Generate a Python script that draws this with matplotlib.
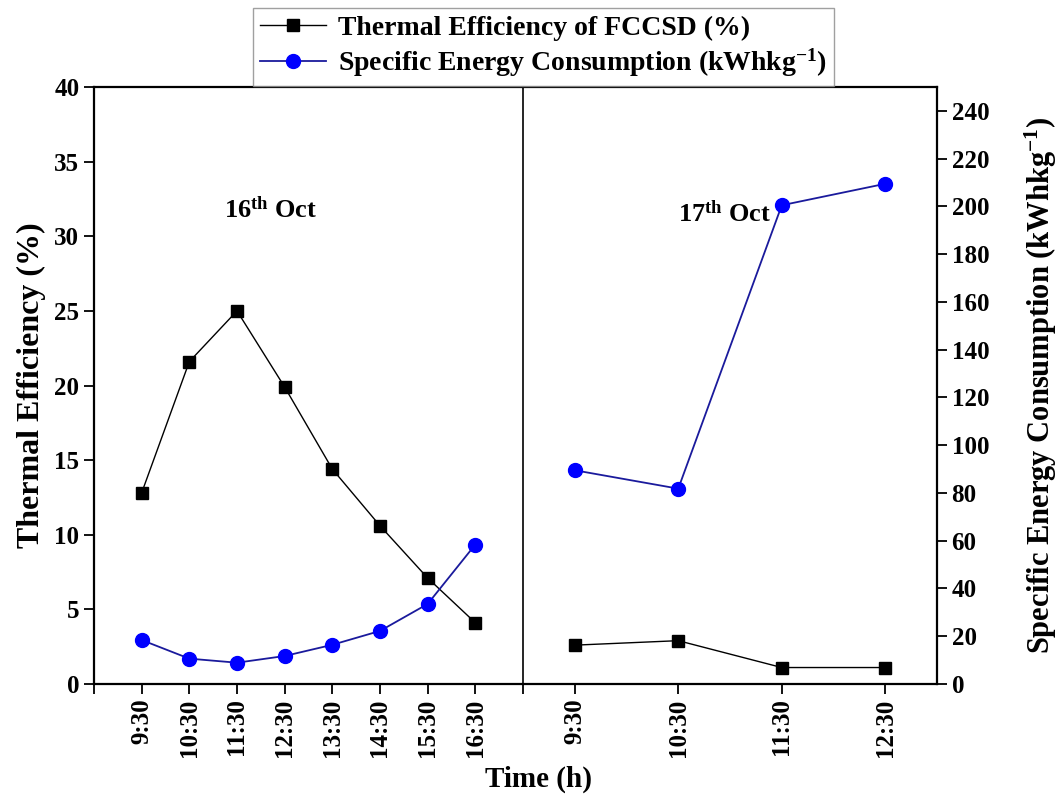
import matplotlib.pyplot as plt
from matplotlib.lines import Line2D

plt.rcParams['font.family'] = ['Liberation Serif', 'DejaVu Serif']
plt.rcParams['font.weight'] = 'bold'
plt.rcParams['mathtext.fontset'] = 'custom'
plt.rcParams['mathtext.rm'] = 'Liberation Serif:bold'
plt.rcParams['mathtext.bf'] = 'Liberation Serif:bold'
plt.rcParams['mathtext.it'] = 'Liberation Serif:italic:bold'

# Day 1 (16th Oct)
times_d1 = ['9:30', '10:30', '11:30', '12:30', '13:30', '14:30', '15:30', '16:30']
eff_d1 = [12.8, 21.6, 25.0, 19.9, 14.4, 10.6, 7.1, 4.1]
sec_d1 = [18.4, 10.6, 8.9, 11.7, 16.4, 22.2, 33.5, 58.4]

# Day 2 (17th Oct)
times_d2 = ['9:30', '10:30', '11:30', '12:30']
eff_d2 = [2.6, 2.9, 1.1, 1.1]
sec_d2 = [89.5, 81.8, 200.5, 209.5]

BLUE_M = '#0000ff'
BLUE_L = '#1a1a9c'
TICK_FS = 18
LABEL_FS = 22

fig = plt.figure(figsize=(10.63, 7.99), dpi=100)
gs = fig.add_gridspec(1, 2, width_ratios=[429, 414], wspace=0,
                      left=0.0884, right=0.8815, bottom=0.144, top=0.891)
ax1 = fig.add_subplot(gs[0])
ax2 = fig.add_subplot(gs[1])
ax1b = ax1.twinx()
ax2b = ax2.twinx()

# left panel
x1 = list(range(len(times_d1)))
ax1.plot(x1, eff_d1, color='black', lw=1, marker='s', ms=8)
ax1b.plot(x1, sec_d1, color=BLUE_L, lw=1.3, marker='o', ms=10,
          mfc=BLUE_M, mec=BLUE_M)
ax1.set_xlim(-1, len(times_d1))
ax1.set_xticks(range(-1, len(times_d1) + 1))
ax1.set_xticklabels([''] + times_d1 + [''], rotation=90)

# right panel
x2 = list(range(len(times_d2)))
ax2.plot(x2, eff_d2, color='black', lw=1, marker='s', ms=8)
ax2b.plot(x2, sec_d2, color=BLUE_L, lw=1.3, marker='o', ms=10,
          mfc=BLUE_M, mec=BLUE_M)
ax2.set_xlim(-0.5, len(times_d2) - 0.5)
ax2.set_xticks(range(len(times_d2)))
ax2.set_xticklabels(times_d2, rotation=90)

for ax in (ax1, ax2):
    ax.set_ylim(0, 40)
for ax in (ax1b, ax2b):
    ax.set_ylim(0, 250)

ax1.set_yticks(range(0, 41, 5))
ax1.tick_params(axis='y', direction='out', length=7, width=1.3, labelsize=TICK_FS)
ax1.tick_params(axis='x', direction='out', length=7, width=1.3, labelsize=TICK_FS)
ax2.tick_params(axis='x', direction='out', length=7, width=1.3, labelsize=TICK_FS)
ax2.tick_params(axis='y', left=False, labelleft=False)
ax1b.tick_params(axis='y', right=False, labelright=False)
ax2b.set_yticks(range(0, 241, 20))
ax2b.tick_params(axis='y', direction='out', length=7, width=1.3, labelsize=TICK_FS)

# spines: the divider between the two days is ax2's left spine
for ax in (ax1, ax2, ax1b, ax2b):
    for s in ax.spines.values():
        s.set_linewidth(1.6)
ax1.spines['right'].set_visible(False)
ax2.spines['left'].set_linewidth(1.2)
for s in ('left', 'right', 'top', 'bottom'):
    ax1b.spines[s].set_visible(False)
for s in ('left', 'top', 'bottom'):
    ax2b.spines[s].set_visible(False)
ax2.spines['right'].set_visible(False)

ax1.set_ylabel('Thermal Efficiency (%)', fontsize=LABEL_FS + 1, fontweight='bold',
               labelpad=6)
ax2b.set_ylabel('Specific Energy Consumption (kWhkg$^{-1}$)', fontsize=LABEL_FS,
                fontweight='bold', rotation=90, labelpad=24)
fig.text(0.507, 0.025, 'Time (h)', ha='center', va='center',
         fontsize=LABEL_FS - 1, fontweight='bold')

ax1.text(2.7, 31.8, '16$^{\\mathbf{th}}$ Oct', ha='center', va='center',
         fontsize=19, fontweight='bold')
ax2.text(1.45, 31.5, '17$^{\\mathbf{th}}$ Oct', ha='center', va='center',
         fontsize=19, fontweight='bold')

handles = [
    Line2D([], [], color='black', lw=1, marker='s', ms=8),
    Line2D([], [], color=BLUE_L, lw=1.3, marker='o', ms=10, mfc=BLUE_M, mec=BLUE_M),
]
labels = ['Thermal Efficiency of FCCSD (%)',
          'Specific Energy Consumption (kWhkg$^{-1}$)']
leg = fig.legend(handles, labels, loc='upper center', bbox_to_anchor=(0.511, 1.0),
                 fontsize=20, frameon=True, fancybox=False, handlelength=2.4,
                 borderpad=0.25, labelspacing=0.2, handletextpad=0.4,
                 borderaxespad=0.3)
leg.get_frame().set_edgecolor('#888888')
leg.get_frame().set_linewidth(1.0)

fig.savefig('out.png', dpi=100)
